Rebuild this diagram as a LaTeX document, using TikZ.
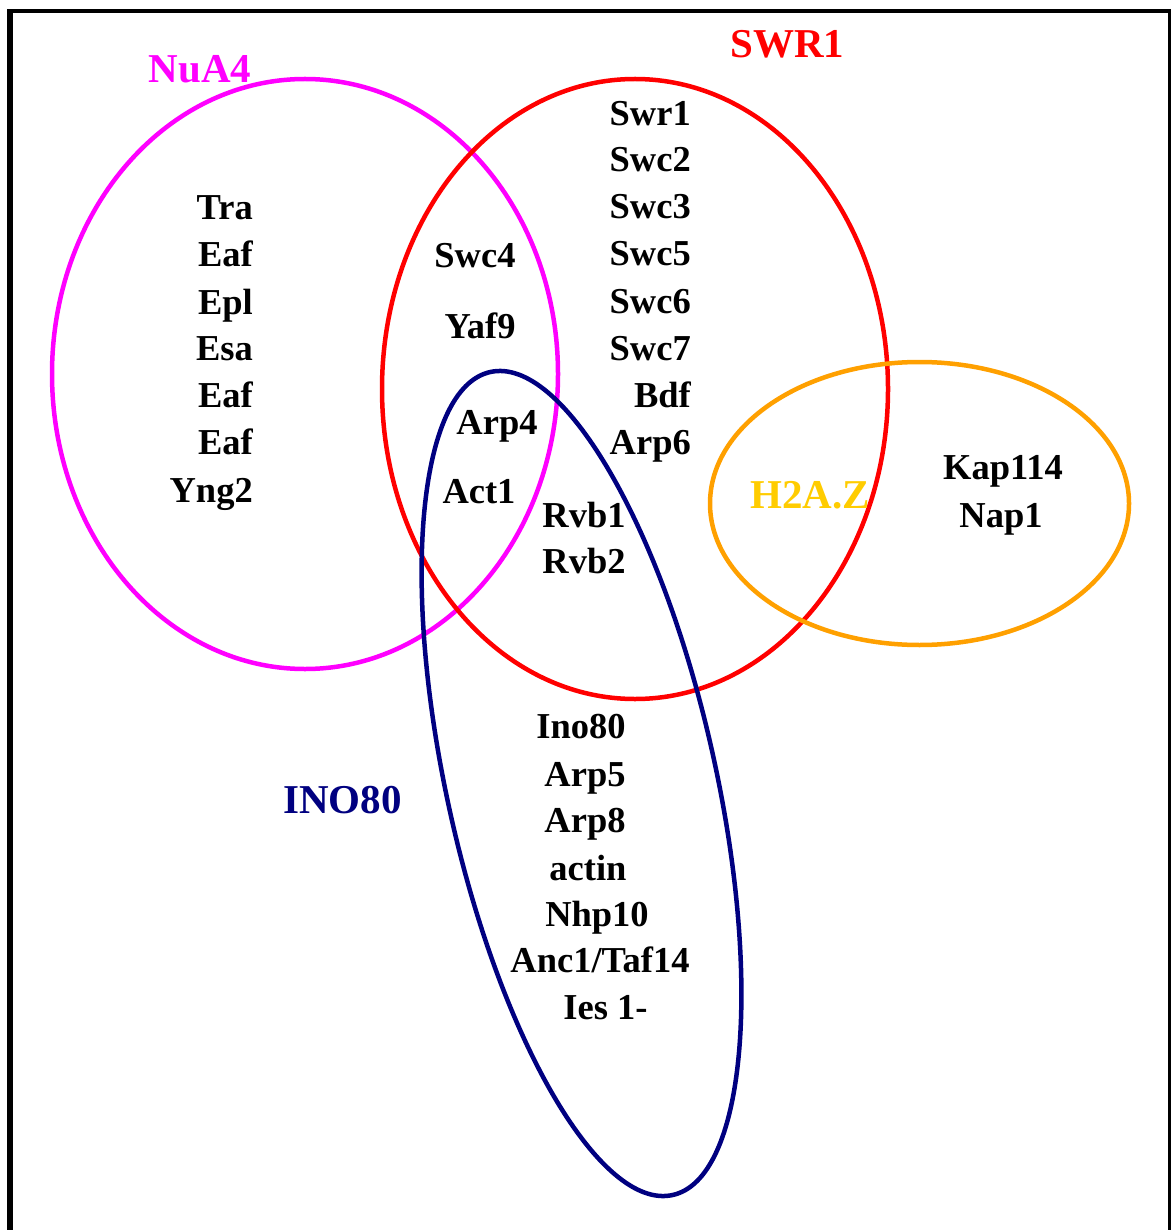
\documentclass[tikz,border=0pt]{standalone}
\usepackage{fontspec}
\setmainfont{Liberation Serif}
\definecolor{nuacol}{HTML}{FF00FF}
\definecolor{swrcol}{HTML}{FF0000}
\definecolor{h2acol}{HTML}{FFA000}
\definecolor{h2atext}{HTML}{FFCC00}
\definecolor{inocol}{HTML}{000080}
\tikzset{
  item/.style={inner sep=0pt, font=\fontsize{36.5}{40}\selectfont\bfseries, text=black},
  ritem/.style={item, anchor=base east},
  citem/.style={item, anchor=base},
  grouplabel/.style={inner sep=0pt, anchor=base, font=\fontsize{41}{46}\selectfont\bfseries},
  ring/.style={line width=4.5pt}
}
\begin{document}
\begin{tikzpicture}[x=1pt,y=-1pt]
\useasboundingbox (0,0) rectangle (1171,1230);
% frame
\fill[black] (7,9) rectangle (12.5,1230);
\fill[black] (7,9) rectangle (1171,13.5);
\fill[black] (1168,9) rectangle (1170.8,1230);
% sets
\draw[ring, nuacol] (305,374) ellipse [x radius=253, y radius=295];
\draw[ring, swrcol] (635,389) ellipse [x radius=253, y radius=310];
\draw[ring, h2acol] (919.5,503.5) ellipse [x radius=209.5, y radius=141.5];
\draw[ring, inocol, rotate around={12.5:(581.5,783.5)}] (581.5,783.5) ellipse [x radius=134.5, y radius=421.5];
% group labels
\node[grouplabel, text=nuacol] (lnua) at (200,83) {NuA4};
\node[grouplabel, text=swrcol] (lswr) at (787.5,58) {SWR1};
\node[grouplabel, text=h2atext] (lh2a) at (810,508) {H2A.Z};
\node[grouplabel, text=inocol] (lino) at (342.5,813) {INO80};
% NuA4 only
\node[ritem] (tra) at (253,220) {Tra};
\node[ritem] (eaf1) at (253,267) {Eaf};
\node[ritem] (epl) at (253,314) {Epl};
\node[ritem] (esa) at (253,360) {Esa};
\node[ritem] (eaf2) at (253,407) {Eaf};
\node[ritem] (eaf3) at (253,454) {Eaf};
\node[ritem] (yng) at (253,502) {Yng2};
% SWR1 only
\node[ritem] (swr1) at (691,126) {Swr1};
\node[ritem] (swc2) at (691,172) {Swc2};
\node[ritem] (swc3) at (691,219) {Swc3};
\node[ritem] (swc5) at (691,266) {Swc5};
\node[ritem] (swc6) at (691,313) {Swc6};
\node[ritem] (swc7) at (691,360) {Swc7};
\node[ritem] (bdf) at (691,407) {Bdf};
\node[ritem] (arp6) at (691,454) {Arp6};
% NuA4 & SWR1
\node[citem] (swc4) at (475,268) {Swc4};
\node[citem] (yaf9) at (480,338) {Yaf9};
% all three
\node[citem] (arp4) at (497,434) {Arp4};
\node[citem] (act1) at (479,503) {Act1};
% SWR1 & INO80
\node[citem] (rvb1) at (584,527) {Rvb1};
\node[citem] (rvb2) at (584,573) {Rvb2};
% H2A.Z
\node[citem] (kap) at (1003,479) {Kap114};
\node[citem] (nap) at (1001,527) {Nap1};
% INO80 only
\node[citem] (ino) at (581,738) {Ino80};
\node[citem] (arp5) at (585,786) {Arp5};
\node[citem] (arp8) at (585,832) {Arp8};
\node[citem] (actin) at (588,880) {actin};
\node[citem] (nhp) at (597,926) {Nhp10};
\node[citem] (anc) at (600,972) {Anc1/Taf14};
\node[citem] (ies) at (605.5,1019) {Ies 1-};
\end{tikzpicture}
\end{document}
